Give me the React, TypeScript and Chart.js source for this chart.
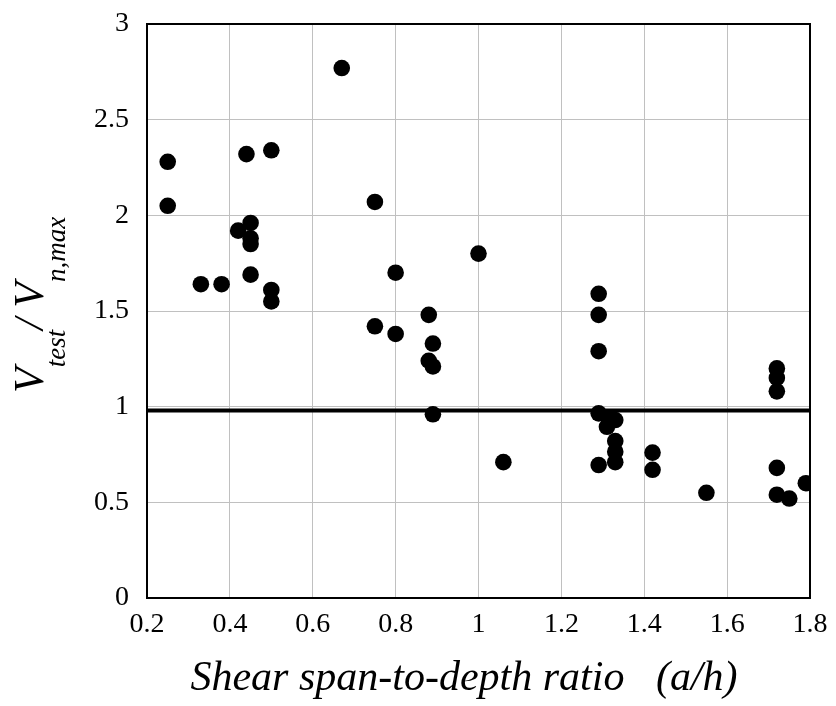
import React, { useEffect, useRef } from "react";
import { Chart, registerables } from "chart.js";

Chart.register(...registerables);

const xValues = [
  0.25, 0.25, 0.33, 0.38, 0.42, 0.44, 0.45, 0.45, 0.45, 0.45, 0.5, 0.5, 0.5,
  0.67, 0.75, 0.75, 0.8, 0.8, 0.88, 0.89, 0.88, 0.89, 0.89, 1.0, 1.06,
  1.29, 1.29, 1.29, 1.29, 1.31, 1.315, 1.33, 1.33, 1.33, 1.33, 1.29,
  1.42, 1.42, 1.55, 1.72, 1.72, 1.72, 1.72, 1.72, 1.75, 1.79,
];
const yValues = [
  2.28, 2.05, 1.64, 1.64, 1.92, 2.32, 1.96, 1.88, 1.85, 1.69, 2.34, 1.61, 1.55,
  2.77, 2.07, 1.42, 1.7, 1.38, 1.48, 1.33, 1.24, 1.21, 0.96, 1.8, 0.71,
  1.59, 1.48, 1.29, 0.965, 0.895, 0.94, 0.93, 0.82, 0.765, 0.71, 0.695,
  0.76, 0.67, 0.55, 1.2, 1.15, 1.08, 0.68, 0.54, 0.52, 0.6,
];
const refLineX = [0.2, 1.8];
const refLineY = [0.98, 0.98];
const xTicks = [0.2, 0.4, 0.6, 0.8, 1, 1.2, 1.4, 1.6, 1.8];
const yTicks = [0, 0.5, 1, 1.5, 2, 2.5, 3];
const xTitle = "Shear span-to-depth ratio   (a/h)";

const SERIF = "'Liberation Serif', 'Times New Roman', serif";

const titlesPlugin = {
  id: "titles",
  beforeDatasetsDraw(chart: any) {
    const { ctx, chartArea } = chart;
    ctx.save();
    ctx.strokeStyle = "#000";
    ctx.lineWidth = 2;
    ctx.strokeRect(
      chartArea.left,
      chartArea.top,
      chartArea.right - chartArea.left,
      chartArea.bottom - chartArea.top
    );
    ctx.restore();
  },
  afterDraw(chart: any) {
    const { ctx } = chart;
    ctx.save();
    ctx.fillStyle = "#000";
    // x title
    ctx.font = `italic 42px ${SERIF}`;
    ctx.textAlign = "center";
    ctx.textBaseline = "alphabetic";
    ctx.fillText(xTitle, 464, 690);
    // y title (rotated, with subscripts)
    ctx.translate(43, 393);
    ctx.rotate(-Math.PI / 2);
    ctx.textAlign = "left";
    const parts: [string, boolean][] = [
      ["V", false],
      ["test", true],
      ["/ ", false],
      ["V", false],
      ["n,max", true],
    ];
    let pos = 0;
    for (const [t, sub] of parts) {
      ctx.font = sub ? `italic 27px ${SERIF}` : `italic 42px ${SERIF}`;
      ctx.fillText(t, pos, sub ? 22 : 0);
      pos += ctx.measureText(t).width;
    }
    ctx.restore();
  },
};

export default function App() {
  const ref = useRef<HTMLCanvasElement>(null);
  useEffect(() => {
    if (!ref.current) return;
    const points = xValues.map((x, i) => ({ x, y: yValues[i] }));
    const line = refLineX.map((x, i) => ({ x, y: refLineY[i] }));
    const chart = new Chart(ref.current, {
      type: "scatter",
      data: {
        datasets: [
          {
            data: points,
            backgroundColor: "#000",
            borderColor: "#000",
            borderWidth: 0,
            pointRadius: 8.3,
            pointHoverRadius: 8.3,
          },
          {
            type: "line",
            data: line,
            borderColor: "#000",
            borderWidth: 4,
            pointRadius: 0,
            showLine: true,
            fill: false,
          } as any,
        ],
      },
      options: {
        animation: false,
        responsive: false,
        devicePixelRatio: 1,
        events: [],
        layout: { padding: { left: 0, right: 26, top: 24, bottom: 0 } },
        plugins: {
          legend: { display: false },
          tooltip: { enabled: false },
        },
        scales: {
          x: {
            type: "linear",
            min: 0.2,
            max: 1.8,
            grid: { color: "#c0c0c0", lineWidth: 1, drawTicks: false },
            border: { display: false },
            afterBuildTicks: (s: any) => {
              s.ticks = xTicks.map((v) => ({ value: v }));
            },
            afterFit: (s: any) => {
              s.height = 108;
              s.paddingLeft = 0;
              s.paddingRight = 0;
            },
            ticks: {
              padding: 10,
              color: "#000",
              font: { family: SERIF, size: 28 },
              maxRotation: 0,
              autoSkip: false,
              callback: (v: any) => String(v),
            },
          },
          y: {
            type: "linear",
            min: 0,
            max: 3,
            grid: { color: "#c0c0c0", lineWidth: 1, drawTicks: false },
            border: { display: false },
            afterBuildTicks: (s: any) => {
              s.ticks = yTicks.map((v) => ({ value: v }));
            },
            afterFit: (s: any) => {
              s.width = 147;
              s.paddingTop = 0;
              s.paddingBottom = 0;
            },
            ticks: {
              padding: 18,
              color: "#000",
              font: { family: SERIF, size: 28 },
              callback: (v: any) => String(v),
            },
          },
        },
      },
      plugins: [titlesPlugin],
    });
    return () => chart.destroy();
  }, []);
  return (
    <div style={{ position: "fixed", left: 0, top: 0, width: 836, height: 706, background: "#fff" }}>
      <canvas ref={ref} width={836} height={706} style={{ width: 836, height: 706, display: "block" }} />
    </div>
  );
}
